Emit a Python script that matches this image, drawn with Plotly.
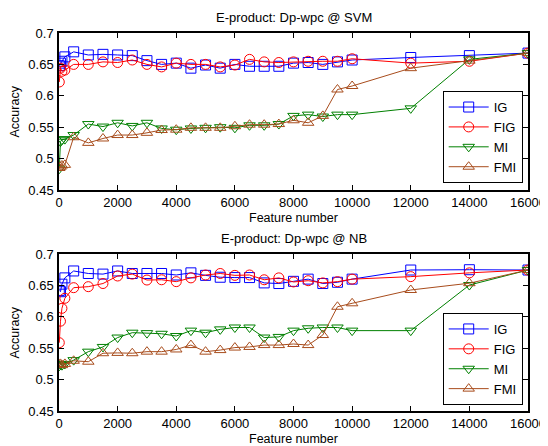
import plotly.graph_objects as go

features = [10, 50, 100, 200, 500, 1000, 1500, 2000, 2500, 3000, 3500, 4000, 4500, 5000,
            5500, 6000, 6500, 7000, 7500, 8000, 8500, 9000, 9500, 10000, 12000, 14000, 16000]

# SVM (top)
svm_ig = [0.648, 0.652, 0.655, 0.662, 0.670, 0.665, 0.666, 0.665, 0.664, 0.656, 0.650, 0.652, 0.644, 0.649,
          0.644, 0.650, 0.647, 0.647, 0.647, 0.652, 0.653, 0.650, 0.654, 0.657, 0.661, 0.664, 0.668]
svm_fig = [0.622, 0.644, 0.639, 0.641, 0.650, 0.650, 0.654, 0.653, 0.657, 0.650, 0.646, 0.652, 0.650, 0.650,
           0.646, 0.649, 0.658, 0.654, 0.653, 0.654, 0.655, 0.655, 0.655, 0.659, 0.652, 0.655, 0.668]
svm_mi = [0.484, 0.527, 0.530, 0.531, 0.5375, 0.555, 0.551, 0.557, 0.552, 0.557, 0.548, 0.546, 0.548, 0.549,
          0.550, 0.549, 0.553, 0.553, 0.555, 0.568, 0.570, 0.567, 0.570, 0.570, 0.580, 0.658, 0.668]
svm_fmi = [0.485, 0.487, 0.489, 0.490, 0.534, 0.525, 0.532, 0.5375, 0.5375, 0.541, 0.5455, 0.546, 0.549, 0.549,
           0.549, 0.5515, 0.554, 0.554, 0.555, 0.561, 0.557, 0.568, 0.610, 0.6156, 0.644, 0.656, 0.668]

# NB (bottom)
nb_ig = [0.642, 0.640, 0.652, 0.662, 0.673, 0.669, 0.668, 0.673, 0.669, 0.669, 0.669, 0.6666, 0.670, 0.666,
         0.663, 0.6625, 0.6625, 0.654, 0.653, 0.6565, 0.660, 0.653, 0.655, 0.660, 0.6745, 0.675, 0.6745]
nb_fig = [0.5588, 0.593, 0.6135, 0.6295, 0.6464, 0.648, 0.653, 0.665, 0.668, 0.6586, 0.659, 0.656, 0.662, 0.6666,
          0.669, 0.666, 0.6666, 0.659, 0.662, 0.6555, 0.6575, 0.654, 0.656, 0.660, 0.664, 0.670, 0.6745]
nb_mi = [0.522, 0.524, 0.523, 0.525, 0.531, 0.5445, 0.552, 0.567, 0.5747, 0.574, 0.573, 0.5694, 0.578, 0.5747,
         0.580, 0.583, 0.583, 0.567, 0.568, 0.578, 0.5817, 0.583, 0.583, 0.578, 0.578, 0.6506, 0.6745]
nb_fmi = [0.524, 0.525, 0.523, 0.525, 0.530, 0.5285, 0.542, 0.5425, 0.542, 0.5445, 0.5445, 0.548, 0.555, 0.5445,
          0.547, 0.551, 0.552, 0.555, 0.555, 0.5567, 0.555, 0.571, 0.616, 0.6215, 0.6427, 0.6535, 0.6745]

names = ["IG", "FIG", "MI", "FMI"]
colors = ["#0000ff", "#ff0000", "#008000", "#a84c1c"]
symbols = ["square-open", "circle-open", "triangle-down-open", "triangle-up-open"]

titles = ["E-product: Dp-wpc @ SVM", "E-product: Dp-wpc @ NB"]
x_title = "Feature number"
y_title = "Accuracy"
x_ticks = [0, 2000, 4000, 6000, 8000, 10000, 12000, 14000, 16000]
y_ticks = [0.45, 0.5, 0.55, 0.6, 0.65, 0.7]

FONT = "Liberation Sans, Arial, sans-serif"

fig = go.Figure()

panels = [(svm_ig, svm_fig, svm_mi, svm_fmi), (nb_ig, nb_fig, nb_mi, nb_fmi)]
for p, series in enumerate(panels):
    xa = "x" if p == 0 else "x2"
    ya = "y" if p == 0 else "y2"
    lg = "legend" if p == 0 else "legend2"
    for name, vals, col, sym in zip(names, series, colors, symbols):
        fig.add_trace(go.Scatter(
            x=features, y=vals, mode="lines+markers", name=name,
            line=dict(color=col, width=1),
            marker=dict(symbol=sym, size=10, color=col, line=dict(width=1, color=col)),
            xaxis=xa, yaxis=ya, legend=lg, showlegend=True,
        ))

axis_common = dict(
    showline=True, linecolor="black", linewidth=1.5, mirror="ticks",
    ticks="inside", ticklen=5, tickwidth=1, tickcolor="black",
    showgrid=False, zeroline=False, automargin=False,
    tickfont=dict(family=FONT, size=13, color="black"),
)

top_dom = [0.5847, 1.0]
bot_dom = [0.0, 0.4153]

xcommon = dict(range=[0, 16000], tickvals=x_ticks, tickformat="d", **axis_common)
ycommon = dict(range=[0.45, 0.7], tickvals=y_ticks, ticklabelstandoff=1, **axis_common)

legend_common = dict(xanchor="right", yanchor="bottom", bgcolor="white",
                     bordercolor="black", borderwidth=1, itemwidth=40,
                     font=dict(family=FONT, size=13), tracegroupgap=0)

# page body adds an 8px offset, so the figure is sized to fit the window
fig.update_layout(
    width=540, height=438,
    margin=dict(l=51, r=20, t=25, b=35),
    paper_bgcolor="white", plot_bgcolor="white",
    font=dict(family=FONT, size=12, color="black"),
    xaxis=dict(anchor="y", **xcommon),
    yaxis=dict(domain=top_dom, anchor="x", **ycommon),
    xaxis2=dict(anchor="y2", **xcommon),
    yaxis2=dict(domain=bot_dom, anchor="x2", **ycommon),
    legend=dict(x=0.9887, y=0.603, **legend_common),
    legend2=dict(x=0.9887, y=0.0159, **legend_common),
    showlegend=True,
)

for dom, title in zip([top_dom, bot_dom], titles):
    fig.add_annotation(text=title, x=0.5, y=dom[1], xref="paper", yref="paper",
                       xanchor="center", yanchor="bottom", yshift=6, showarrow=False,
                       font=dict(family=FONT, size=13, color="black"))
    fig.add_annotation(text=x_title, x=0.5, y=dom[0], xref="paper", yref="paper",
                       xanchor="center", yanchor="middle", yshift=-28, showarrow=False,
                       font=dict(family=FONT, size=12.5, color="black"))
    fig.add_annotation(text=y_title, x=0, y=(dom[0] + dom[1]) / 2, xref="paper", yref="paper",
                       xanchor="center", yanchor="middle", xshift=-44, textangle=-90,
                       showarrow=False, font=dict(family=FONT, size=12.5, color="black"))

fig.write_html("out.html")
